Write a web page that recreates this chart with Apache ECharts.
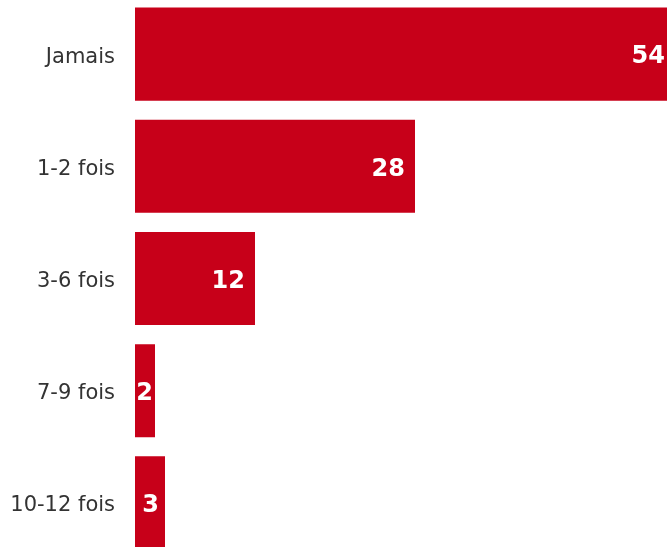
<!DOCTYPE html>
<html>
<head>
<meta charset="utf-8">
<script src="https://cdn.jsdelivr.net/npm/echarts@6/dist/echarts.min.js"></script>
<style>
  html, body { margin: 0; padding: 0; background: #ffffff; overflow: hidden; width: 667px; height: 547px; }
  /* the plot is slightly larger than the page: the longest bar runs off the right edge */
  #chart { position: absolute; left: 0; top: -2px; width: 675px; height: 561px; }
</style>
</head>
<body>
<div id="chart"></div>
<script>
// Response categories (top to bottom) and their percentages
const categories = ['Jamais', '1-2 fois', '3-6 fois', '7-9 fois', '10-12 fois'];
const values = [54, 28, 12, 2, 3];

const barColor = '#c70019';

const chart = echarts.init(document.getElementById('chart'), null, { renderer: 'canvas' });

// Narrow bars get their label pulled closer to the bar end
const seriesData = values.map(v => ({
  value: v,
  label: { distance: v < 5 ? (v < 3 ? 2 : 6) : 10 }
}));

chart.setOption({
  animation: false,
  grid: { left: 135, right: 0, top: 0, bottom: 0, containLabel: false },
  xAxis: {
    type: 'value',
    min: 0,
    max: 54,
    show: false
  },
  yAxis: {
    type: 'category',
    data: categories,
    inverse: true,
    axisLine: { show: false },
    axisTick: { show: false },
    axisLabel: {
      margin: 20,
      formatter: name => '{cat|' + name + '}',
      rich: {
        cat: {
          color: '#333333',
          fontFamily: 'DejaVu Sans',
          fontSize: 21,
          padding: [6, 0, 0, 0]
        }
      }
    }
  },
  series: [{
    type: 'bar',
    data: seriesData,
    barCategoryGap: '17%',
    itemStyle: { color: barColor },
    label: {
      show: true,
      position: 'insideRight',
      offset: [0, 3],
      color: '#ffffff',
      fontFamily: 'DejaVu Sans',
      fontWeight: 'bold',
      fontSize: 24
    }
  }]
});
</script>
</body>
</html>
